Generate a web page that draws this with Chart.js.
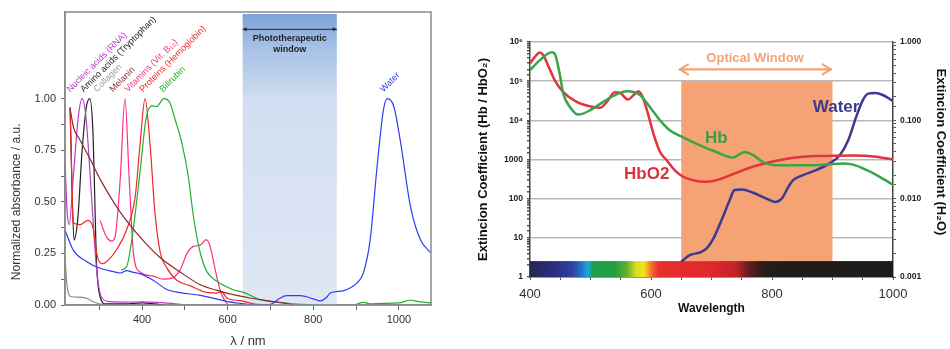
<!DOCTYPE html>
<html>
<head>
<meta charset="utf-8">
<script src="https://cdn.jsdelivr.net/npm/chart.js@4.4.1/dist/chart.umd.min.js"></script>
<style>
  body { margin: 0; background: #fff; }
  #left { position: absolute; left: 0; top: 0; }
  #right { position: absolute; left: 445px; top: 0; }
</style>
</head>
<body>
<canvas id="left" width="445" height="349"></canvas>
<canvas id="right" width="505" height="349"></canvas>
<script>
// ---- left panel: normalized absorbance of tissue chromophores ----
const waterNm  = [220, 239, 271, 302, 333, 350, 364, 380, 395, 426, 458, 489, 536, 598, 629, 660, 700, 720, 738, 769, 800, 816, 830, 840, 871, 902, 917, 933, 949, 964, 973, 988, 1003, 1027, 1050, 1075];
const waterAbs = [0.364, 0.267, 0.21, 0.178, 0.162, 0.155, 0.167, 0.158, 0.152, 0.12, 0.075, 0.06, 0.047, 0.018, 0.008, 0.0, 0.003, 0.03, 0.045, 0.045, 0.03, 0.02, 0.035, 0.058, 0.07, 0.107, 0.155, 0.317, 0.67, 0.947, 1.0, 0.963, 0.80, 0.478, 0.317, 0.252];

const biliNm  = [351, 364, 376, 395, 409, 423, 434, 451, 465, 477, 493, 508, 520, 536, 551, 575, 613, 637, 676, 730, 808, 894, 917, 933, 960, 1000, 1026, 1050, 1075];
const biliAbs = [0.17, 0.186, 0.315, 0.64, 0.90, 0.965, 0.962, 1.0, 0.98, 0.90, 0.785, 0.624, 0.43, 0.252, 0.163, 0.115, 0.074, 0.061, 0.026, 0.01, 0.0, 0.0, 0.013, 0.005, 0.008, 0.01, 0.023, 0.015, 0.01];

const protNm  = [232, 236, 239, 255, 274, 286, 294, 306, 317, 341, 364, 384, 395, 407, 419, 430, 442, 458, 481, 512, 551, 575, 586, 598, 629, 660, 691];
const protAbs = [0.96, 0.6, 0.40, 0.39, 0.41, 0.37, 0.25, 0.20, 0.21, 0.27, 0.365, 0.525, 0.77, 1.0, 0.77, 0.45, 0.26, 0.18, 0.12, 0.094, 0.061, 0.058, 0.065, 0.034, 0.021, 0.006, 0.0];

const vitNm  = [302, 317, 329, 337, 349, 360, 370, 380, 395, 426, 449, 470, 489, 505, 520, 536, 550, 559, 571, 582, 594, 602];
const vitAbs = [0.41, 0.33, 0.31, 0.33, 0.61, 1.0, 0.61, 0.25, 0.16, 0.14, 0.125, 0.13, 0.17, 0.25, 0.284, 0.29, 0.317, 0.284, 0.17, 0.074, 0.018, 0.0];

const melNm  = [232, 240, 255, 278, 302, 349, 395, 442, 489, 536, 575, 613, 652, 691, 730, 754];
const melAbs = [0.95, 0.86, 0.80, 0.71, 0.61, 0.45, 0.33, 0.23, 0.16, 0.098, 0.071, 0.05, 0.034, 0.021, 0.01, 0.0];

const rnaNm  = [220, 225, 230, 239, 251, 260, 269, 282, 294, 306, 325, 360, 400, 440, 470, 500];
const rnaAbs = [0.70, 0.45, 0.39, 0.61, 0.91, 1.0, 0.91, 0.525, 0.17, 0.034, 0.016, 0.014, 0.015, 0.012, 0.008, 0.0];

const trpNm  = [232, 236, 241, 250, 260, 270, 278, 285, 294, 302, 315, 360, 400, 430, 450];
const trpAbs = [0.956, 0.6, 0.316, 0.42, 0.75, 0.96, 1.0, 0.85, 0.19, 0.04, 0.005, 0.005, 0.01, 0.005, 0.0];

const colNm  = [220, 225, 235, 250, 271, 286, 302, 317];
const colAbs = [0.235, 0.09, 0.04, 0.038, 0.032, 0.016, 0.005, 0.0];

const absXTicks = [300, 400, 500, 600, 700, 800, 900, 1000];
const absXLabels = [400, 600, 800, 1000];
const absYTicks = [0, 0.125, 0.25, 0.375, 0.5, 0.625, 0.75, 0.875, 1.0];
const absYLabelValues = [0, 0.25, 0.5, 0.75, 1.0];
const absYLabels = ['0.00', '0.25', '0.50', '0.75', '1.00'];
const photoWindow = [635, 855];

// ---- right panel: extinction coefficients ----
const hbNm = [400, 416, 436, 441, 449, 455, 466, 480, 499, 521, 543, 560, 582, 598, 615, 631, 650, 681, 708, 736, 744, 755, 769, 785, 807, 835, 862, 890, 917, 934, 956, 978, 1000];
const hbExt = [190000, 340000, 550000, 500000, 155000, 48000, 22000, 14000, 18000, 29500, 46000, 55000, 44000, 22000, 10000, 5600, 3900, 2300, 1550, 1120, 1290, 1550, 1290, 870, 710, 710, 710, 740, 790, 740, 540, 360, 225];

const hbo2Nm = [400, 408, 416, 422, 430, 441, 455, 477, 499, 516, 527, 540, 549, 562, 571, 579, 586, 595, 604, 615, 626, 639, 653, 670, 689, 708, 736, 763, 791, 818, 851, 890, 934, 972, 1000];
const hbo2Ext = [282000, 417000, 537000, 457000, 251000, 105000, 52500, 29500, 22900, 20900, 29500, 52500, 50100, 33900, 43600, 55000, 39800, 14800, 4570, 1550, 955, 537, 363, 295, 269, 295, 427, 617, 813, 1000, 1175, 1230, 1260, 1175, 1000];

const h2oNm = [650, 664, 681, 692, 703, 719, 730, 738, 750, 769, 791, 805, 816, 827, 835, 851, 873, 895, 912, 926, 939, 950, 959, 970, 984, 1000];
const h2oExt = [0.00157, 0.0019, 0.00206, 0.00232, 0.00309, 0.00589, 0.00955, 0.0129, 0.0131, 0.0119, 0.010, 0.0091, 0.010, 0.0141, 0.0172, 0.020, 0.0231, 0.0282, 0.0358, 0.0556, 0.110, 0.180, 0.219, 0.223, 0.209, 0.176];

const extXTicks = [400, 450, 500, 550, 600, 650, 700, 750, 800, 850, 900, 950, 1000];
const extXLabels = [400, 600, 800, 1000];
const extYValues = [1, 10, 100, 1000, 1e4, 1e5, 1e6];
const extYLabels = ['1', '10', '100', '1000', '10⁴', '10⁵', '10⁶'];
const waterYValues = [0.001, 0.01, 0.1, 1];
const waterYLabels = ['0.001', '0.010', '0.100', '1.000'];
const opticalWindow = [650, 900];
const spectrumNm = [400, 440, 470, 485, 495, 505, 540, 560, 575, 588, 600, 612, 700, 740, 765, 790, 1000];
const spectrumColor = ['#262650', '#2a2f80', '#3040a0', '#2870c8', '#1aa8e0', '#1e9e48', '#22a040', '#60b030', '#d8dc20', '#f4e41c', '#f07a28', '#e83030', '#e3262e', '#c02428', '#5a1c1c', '#221c1c', '#1c1c1c'];

const FONT = '"Liberation Sans", Arial, sans-serif';
Chart.defaults.font.family = FONT;

const pts = (xs, ys) => xs.map((x, i) => ({ x, y: ys[i] }));
const near = (v, list) => list.findIndex(t => Math.abs(v / (t || 1) - (t ? 1 : 0)) < 1e-6 || v === t);

const absSeries = [
  { name: 'Water', color: '#2f3cf5', nm: waterNm, abs: waterAbs, at: 964 },
  { name: 'Collagen', color: '#8c8c8c', nm: colNm, abs: colAbs, at: 295 },
  { name: 'Melanin', color: '#8e2b2b', nm: melNm, abs: melAbs, at: 332 },
  { name: 'Bilirubin', color: '#22b02a', nm: biliNm, abs: biliAbs, at: 449 },
  { name: 'Proteins (Hemoglobin)', color: '#ee2a2a', nm: protNm, abs: protAbs, at: 402 },
  { name: 'Vitamins (Vit. B₁₂)', color: '#ff2d86', nm: vitNm, abs: vitAbs, at: 367 },
  { name: 'Nucleic acids (RNA)', color: '#b93cc9', nm: rnaNm, abs: rnaAbs, at: 232 },
  { name: 'Amino acids (Tryptophan)', color: '#222222', nm: trpNm, abs: trpAbs, at: 264 }
];

const leftDecor = {
  id: 'leftDecor',
  beforeDatasetsDraw(chart) {
    const { ctx, chartArea: a, scales: { x } } = chart;
    const x0 = x.getPixelForValue(photoWindow[0]);
    const x1 = x.getPixelForValue(photoWindow[1]);
    const g = ctx.createLinearGradient(0, a.top, 0, a.bottom);
    g.addColorStop(0, '#7aa2d8');
    g.addColorStop(0.12, '#a6c0e6');
    g.addColorStop(0.3, '#d2def1');
    g.addColorStop(1, '#dfe7f4');
    ctx.save();
    ctx.fillStyle = g;
    ctx.fillRect(x0, a.top + 2, x1 - x0, a.bottom - a.top - 2);
    ctx.restore();
  },
  afterDatasetsDraw(chart) {
    const { ctx, chartArea: a, scales: { x, y } } = chart;
    ctx.save();
    // frame
    ctx.strokeStyle = '#8a8a8a';
    ctx.lineWidth = 1.5;
    ctx.strokeRect(a.left, a.top, a.right - a.left, a.bottom - a.top);
    // window arrow
    const x0 = x.getPixelForValue(photoWindow[0]);
    const x1 = x.getPixelForValue(photoWindow[1]);
    const ay = y.getPixelForValue(1.336);
    ctx.strokeStyle = '#222';
    ctx.fillStyle = '#222';
    ctx.lineWidth = 1;
    ctx.beginPath(); ctx.moveTo(x0, ay); ctx.lineTo(x1, ay); ctx.stroke();
    [[x0, 1], [x1, -1]].forEach(([px, d]) => {
      ctx.beginPath();
      ctx.moveTo(px, ay); ctx.lineTo(px + 4 * d, ay - 2); ctx.lineTo(px + 4 * d, ay + 2);
      ctx.closePath(); ctx.fill();
    });
    const cx = (x0 + x1) / 2;
    ctx.font = 'bold 9px ' + FONT;
    ctx.textAlign = 'center';
    ctx.textBaseline = 'middle';
    ctx.fillText('Phototherapeutic', cx, y.getPixelForValue(1.29));
    ctx.fillText('window', cx, y.getPixelForValue(1.238));
    // rotated curve labels
    ctx.font = '9px ' + FONT;
    ctx.textAlign = 'left';
    ctx.textBaseline = 'alphabetic';
    absSeries.forEach(s => {
      ctx.save();
      ctx.translate(x.getPixelForValue(s.at), y.getPixelForValue(1.03));
      ctx.rotate(-Math.PI / 4);
      ctx.fillStyle = s.color === '#8c8c8c' ? '#9a9a9a' : s.color;
      ctx.fillText(s.name, 0, 0);
      ctx.restore();
    });
    // y title
    ctx.save();
    ctx.translate(17, y.getPixelForValue(0.5));
    ctx.rotate(-Math.PI / 2);
    ctx.font = '12px ' + FONT;
    ctx.fillStyle = '#333';
    ctx.textAlign = 'center';
    ctx.textBaseline = 'middle';
    ctx.fillText('Normalized absorbance / a.u.', 0, 0);
    ctx.restore();
    ctx.restore();
  }
};

new Chart(document.getElementById('left'), {
  type: 'line',
  data: {
    datasets: absSeries.map(s => ({
      label: s.name,
      data: pts(s.nm, s.abs),
      borderColor: s.color,
      borderWidth: 1.2,
      pointRadius: 0,
      fill: false,
      cubicInterpolationMode: 'monotone'
    }))
  },
  options: {
    responsive: false,
    animation: false,
    devicePixelRatio: 1,
    layout: { padding: { top: 12, right: 14, left: 0, bottom: 0 } },
    plugins: { legend: { display: false }, tooltip: { enabled: false } },
    scales: {
      x: {
        type: 'linear', min: 220, max: 1075,
        afterBuildTicks: s => { s.ticks = absXTicks.map(v => ({ value: v })); },
        afterFit: s => { s.height = 44; },
        ticks: { autoSkip: false, maxRotation: 0, padding: 3, color: '#333', font: { size: 11 },
          callback: v => absXLabels.includes(v) ? String(v) : '' },
        grid: { drawOnChartArea: false, tickLength: 5, tickColor: '#666' },
        border: { color: '#8a8a8a', width: 1.5 },
        title: { display: true, text: 'λ / nm', color: '#333', font: { size: 13 }, padding: { top: 0, bottom: 0 } }
      },
      y: {
        min: 0, max: 1.42,
        afterBuildTicks: s => { s.ticks = absYTicks.map(v => ({ value: v })); },
        afterFit: s => { s.width = 65; },
        ticks: { autoSkip: false, padding: 5, color: '#333', font: { size: 11 },
          callback: v => { const i = absYLabelValues.indexOf(v); return i >= 0 ? absYLabels[i] : ''; } },
        grid: { drawOnChartArea: false, tickLength: 4, tickColor: '#666' },
        border: { color: '#8a8a8a', width: 1.5 }
      }
    }
  },
  plugins: [leftDecor]
});

// ---- right chart ----
const idxOf = (v, list) => list.findIndex(t => Math.abs(v / t - 1) < 1e-6);
const spectrumTop = 2.55;

const rightDecor = {
  id: 'rightDecor',
  beforeDatasetsDraw(chart) {
    const { ctx, chartArea: a, scales: { x, y } } = chart;
    ctx.save();
    const wx0 = x.getPixelForValue(opticalWindow[0]);
    const wx1 = x.getPixelForValue(opticalWindow[1]);
    const wy0 = y.getPixelForValue(1e5);
    const barTop = y.getPixelForValue(spectrumTop);
    ctx.fillStyle = '#f5a274';
    ctx.fillRect(wx0, wy0, wx1 - wx0, barTop - wy0);
    const g = ctx.createLinearGradient(a.left, 0, a.right, 0);
    spectrumNm.forEach((nm, i) => {
      g.addColorStop((x.getPixelForValue(nm) - a.left) / (a.right - a.left), spectrumColor[i]);
    });
    ctx.fillStyle = g;
    ctx.fillRect(a.left, barTop, a.right - a.left, a.bottom - barTop);
    ctx.restore();
  },
  afterDatasetsDraw(chart) {
    const { ctx, chartArea: a, scales: { x, y } } = chart;
    ctx.save();
    // optical window arrow
    const ax0 = x.getPixelForValue(648), ax1 = x.getPixelForValue(897);
    const ay = y.getPixelForValue(2e5);
    ctx.strokeStyle = '#f5a274';
    ctx.lineWidth = 2.2;
    ctx.lineCap = 'round';
    ctx.beginPath(); ctx.moveTo(ax0, ay); ctx.lineTo(ax1, ay); ctx.stroke();
    [[ax0, 1], [ax1, -1]].forEach(([px, d]) => {
      ctx.beginPath();
      ctx.moveTo(px + 8 * d, ay - 5); ctx.lineTo(px, ay); ctx.lineTo(px + 8 * d, ay + 5);
      ctx.stroke();
    });
    ctx.fillStyle = '#f5a274';
    ctx.font = 'bold 13px ' + FONT;
    ctx.textAlign = 'center';
    ctx.textBaseline = 'middle';
    ctx.fillText('Optical Window', x.getPixelForValue(772), y.getPixelForValue(3.7e5));
    // series labels
    ctx.font = 'bold 17px ' + FONT;
    ctx.fillStyle = '#3b3a8f';
    ctx.fillText('Water', x.getPixelForValue(906), y.getPixelForValue(2.1e4));
    ctx.fillStyle = '#3a9e44';
    ctx.fillText('Hb', x.getPixelForValue(708), y.getPixelForValue(3550));
    ctx.fillStyle = '#d8333d';
    ctx.fillText('HbO2', x.getPixelForValue(593), y.getPixelForValue(425));
    // axis titles
    ctx.fillStyle = '#111';
    ctx.font = 'bold 13px ' + FONT;
    ctx.save();
    ctx.translate(38, (a.top + a.bottom) / 2);
    ctx.rotate(-Math.PI / 2);
    ctx.fillText('Extincion Coefficient (Hb / HbO₂)', 0, 0);
    ctx.restore();
    ctx.save();
    ctx.translate(496, 152);
    ctx.rotate(Math.PI / 2);
    ctx.fillText('Extincion Coefficient (H₂O)', 0, 0);
    ctx.restore();
    ctx.restore();
  }
};

new Chart(document.getElementById('right'), {
  type: 'line',
  data: {
    datasets: [
      { label: 'Hb', data: pts(hbNm, hbExt), borderColor: '#3aa548', borderWidth: 2.5, pointRadius: 0, cubicInterpolationMode: 'monotone', yAxisID: 'y' },
      { label: 'HbO2', data: pts(hbo2Nm, hbo2Ext), borderColor: '#e2343f', borderWidth: 2.5, pointRadius: 0, cubicInterpolationMode: 'monotone', yAxisID: 'y' },
      { label: 'Water', data: pts(h2oNm, h2oExt), borderColor: '#3b3a8f', borderWidth: 2.5, pointRadius: 0, cubicInterpolationMode: 'monotone', yAxisID: 'y2' }
    ]
  },
  options: {
    responsive: false,
    animation: false,
    devicePixelRatio: 1,
    layout: { padding: { top: 42, right: 0, left: 0, bottom: 0 } },
    plugins: { legend: { display: false }, tooltip: { enabled: false } },
    scales: {
      x: {
        type: 'linear', min: 400, max: 1000,
        afterBuildTicks: s => { s.ticks = extXTicks.map(v => ({ value: v })); },
        afterFit: s => { s.height = 72; },
        ticks: { autoSkip: false, maxRotation: 0, padding: 7, color: '#333', font: { size: 13 },
          callback: v => extXLabels.includes(v) ? String(v) : '' },
        grid: { drawOnChartArea: false, tickLength: 3, tickColor: '#555' },
        border: { color: '#555', width: 1.5 },
        title: { display: true, text: 'Wavelength', color: '#111', font: { size: 12, weight: 'bold' }, padding: { top: 0, bottom: 33 } }
      },
      y: {
        type: 'logarithmic', position: 'left', min: 1, max: 1e6,
        afterFit: s => { s.width = 85; },
        ticks: { autoSkip: false, padding: 4, color: '#222', font: { size: 8.5, weight: 'bold' },
          callback: v => { const i = idxOf(v, extYValues); return i >= 0 ? extYLabels[i] : ''; } },
        grid: {
          color: c => idxOf(c.tick.value, extYValues) >= 0 ? '#b9b9b9' : 'rgba(0,0,0,0)',
          lineWidth: 1.5, tickLength: 3, tickColor: '#555'
        },
        border: { color: '#444', width: 1.5 }
      },
      y2: {
        type: 'logarithmic', position: 'right', min: 0.001, max: 1,
        afterFit: s => { s.width = 57; },
        ticks: { autoSkip: false, padding: 4, color: '#222', font: { size: 8.5, weight: 'bold' },
          callback: v => { const i = idxOf(v, waterYValues); return i >= 0 ? waterYLabels[i] : ''; } },
        grid: { drawOnChartArea: false, tickLength: 3, tickColor: '#555' },
        border: { color: '#444', width: 1.5 }
      }
    }
  },
  plugins: [rightDecor]
});
</script>
</body>
</html>
